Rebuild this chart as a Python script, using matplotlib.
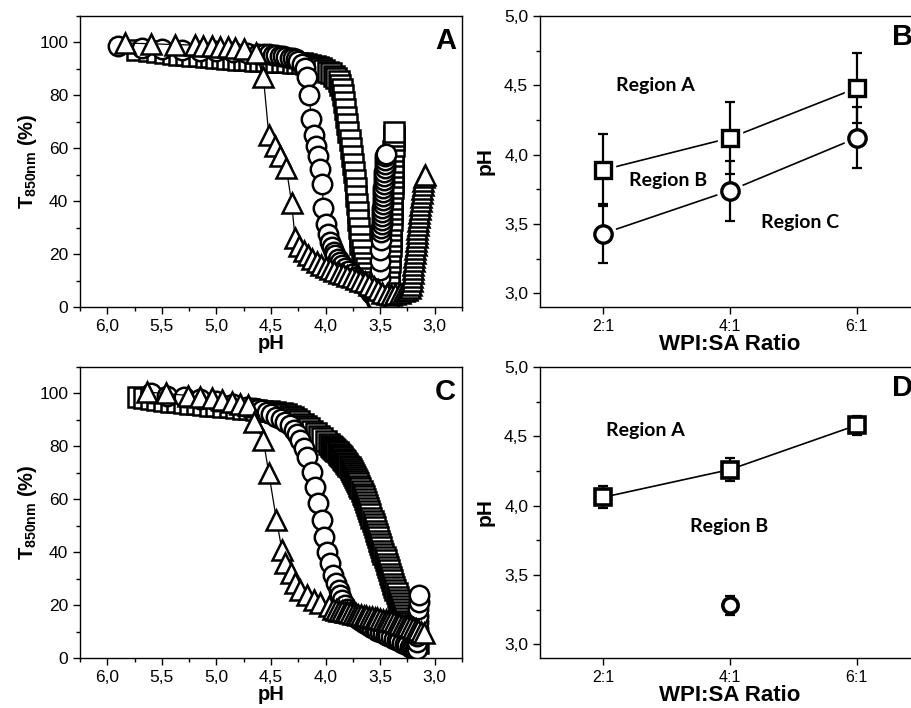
import matplotlib.pyplot as plt
from matplotlib.ticker import MultipleLocator, FuncFormatter, FixedLocator

# ---- data (pH, transmittance %) ----
a_squares = [
    (5.73, 97.2), (5.62, 96.7), (5.54, 96.3), (5.47, 96.0), (5.40, 95.7), (5.34, 95.4),
    (5.28, 95.2), (5.22, 95.0), (5.16, 94.8), (5.10, 94.6), (5.05, 94.4), (5.00, 94.2),
    (4.95, 94.0), (4.90, 93.8), (4.85, 93.7), (4.80, 93.5), (4.75, 93.4), (4.70, 93.2),
    (4.65, 93.1), (4.60, 93.0), (4.55, 92.9), (4.50, 92.8), (4.45, 92.7), (4.40, 92.6),
    (4.35, 92.5), (4.30, 92.4), (4.26, 92.3), (4.22, 92.1), (4.18, 91.9), (4.14, 91.6),
    (4.10, 91.2), (4.07, 90.8), (4.04, 90.3), (4.01, 89.7), (3.98, 89.0), (3.95, 88.3),
    (3.92, 87.5), (3.90, 86.5), (3.88, 85.3), (3.865, 84.0), (3.85, 82.3), (3.84, 80.0),
    (3.83, 77.5), (3.82, 74.8), (3.81, 72.0), (3.80, 69.0), (3.79, 66.0), (3.78, 63.0),
    (3.77, 60.0), (3.76, 57.0), (3.75, 54.0), (3.74, 51.0), (3.73, 48.0), (3.725, 45.0),
    (3.72, 42.0), (3.71, 39.0), (3.705, 36.0), (3.70, 33.0), (3.69, 30.0), (3.685, 27.0),
    (3.68, 24.0), (3.67, 21.5), (3.66, 19.0), (3.65, 16.8), (3.63, 14.6), (3.61, 12.7),
    (3.59, 11.0), (3.57, 9.5), (3.55, 8.1), (3.53, 6.8), (3.51, 5.6), (3.49, 4.6),
    (3.47, 3.8), (3.45, 3.2), (3.43, 3.0), (3.428, 5.0), (3.425, 7.0), (3.422, 9.0),
    (3.42, 11.0), (3.417, 13.0), (3.415, 15.0), (3.412, 17.0), (3.41, 19.0), (3.407, 21.0),
    (3.405, 23.0), (3.402, 25.0), (3.40, 27.0), (3.398, 29.0), (3.396, 31.0), (3.394, 33.0),
    (3.393, 35.0), (3.391, 37.0), (3.39, 39.0), (3.388, 41.0), (3.387, 43.0), (3.385, 45.0),
    (3.384, 47.0), (3.383, 49.0), (3.382, 51.0), (3.381, 53.0), (3.38, 55.0), (3.379, 57.0),
    (3.378, 59.0), (3.377, 61.0), (3.376, 63.0), (3.375, 64.5), (3.375, 66.3),
]
a_circles = [
    (5.90, 98.5), (5.68, 98.0), (5.50, 97.6), (5.32, 97.2), (5.15, 96.9), (5.00, 96.6),
    (4.85, 96.3), (4.72, 96.0), (4.62, 95.8), (4.56, 95.6), (4.52, 95.5), (4.48, 95.4),
    (4.45, 95.2), (4.42, 95.0), (4.39, 94.8), (4.36, 94.6), (4.33, 94.3), (4.30, 94.0),
    (4.27, 93.6), (4.25, 93.0), (4.22, 92.0), (4.19, 90.3), (4.17, 86.8), (4.15, 80.0),
    (4.13, 71.0), (4.11, 65.0), (4.09, 61.0), (4.07, 57.0), (4.05, 52.0), (4.03, 46.5),
    (4.02, 37.5), (4.00, 31.5), (3.975, 27.5), (3.955, 24.5), (3.94, 22.5), (3.925, 20.8),
    (3.91, 19.5), (3.89, 18.2), (3.87, 17.0), (3.85, 16.0), (3.82, 14.8), (3.79, 13.6),
    (3.76, 12.5), (3.73, 11.4), (3.70, 10.3), (3.67, 9.2), (3.64, 8.0), (3.61, 6.7),
    (3.58, 5.3), (3.555, 4.0), (3.535, 2.8), (3.525, 2.5), (3.515, 5.0), (3.51, 8.0),
    (3.505, 11.0), (3.50, 14.0), (3.50, 17.5), (3.497, 21.5), (3.493, 25.2), (3.49, 28.5),
    (3.488, 30.0), (3.487, 31.5), (3.485, 33.0), (3.484, 34.5), (3.482, 36.0), (3.48, 37.5),
    (3.478, 39.0), (3.476, 40.5), (3.474, 42.0), (3.472, 43.5), (3.47, 45.0), (3.468, 46.5),
    (3.466, 48.0), (3.464, 49.5), (3.462, 51.0), (3.46, 52.5), (3.458, 54.0), (3.455, 55.5),
    (3.453, 57.0), (3.45, 58.0),
]
a_triangles = [
    (5.84, 99.8), (5.60, 99.5), (5.38, 99.2), (5.20, 99.0), (5.12, 98.8), (5.04, 98.6),
    (4.97, 98.4), (4.89, 98.1), (4.83, 97.8), (4.75, 97.5), (4.64, 96.0), (4.57, 87.0),
    (4.52, 65.0), (4.46, 60.7), (4.42, 56.9), (4.36, 52.5), (4.31, 39.2), (4.28, 26.0),
    (4.24, 23.0), (4.20, 21.0), (4.16, 19.5), (4.12, 18.2), (4.08, 17.0), (4.04, 16.0),
    (4.00, 15.2), (3.96, 14.4), (3.92, 13.7), (3.88, 13.0), (3.84, 12.4), (3.80, 11.8),
    (3.76, 11.2), (3.72, 10.6), (3.68, 10.0), (3.64, 9.3), (3.60, 8.5), (3.56, 7.5),
    (3.52, 6.3), (3.48, 5.3), (3.44, 4.8), (3.40, 4.7), (3.36, 4.9), (3.32, 5.3),
    (3.28, 6.0), (3.25, 6.5), (3.225, 7.0), (3.215, 8.5), (3.211, 10.0), (3.207, 11.5),
    (3.203, 13.0), (3.199, 14.5), (3.195, 16.0), (3.19, 17.5), (3.186, 19.0), (3.182, 20.5),
    (3.178, 22.0), (3.174, 23.5), (3.17, 25.0), (3.166, 26.5), (3.162, 28.0), (3.158, 29.5),
    (3.154, 31.0), (3.15, 32.5), (3.146, 34.0), (3.142, 35.5), (3.138, 37.0), (3.134, 38.5),
    (3.13, 40.0), (3.126, 41.5), (3.121, 43.0), (3.116, 44.5), (3.111, 46.0), (3.105, 47.5),
    (3.099, 49.0), (3.093, 50.0),
]

c_squares = [
    (5.72, 98.5), (5.66, 98.1), (5.60, 97.8), (5.54, 97.5), (5.48, 97.2), (5.42, 96.9),
    (5.36, 96.6), (5.30, 96.4), (5.24, 96.1), (5.18, 95.9), (5.12, 95.6), (5.06, 95.4),
    (5.00, 95.1), (4.94, 94.9), (4.88, 94.7), (4.82, 94.5), (4.76, 94.3), (4.70, 94.0),
    (4.64, 93.8), (4.58, 93.5), (4.52, 93.2), (4.46, 92.9), (4.40, 92.5), (4.36, 92.1),
    (4.33, 91.6), (4.30, 91.0), (4.27, 90.3), (4.24, 89.5), (4.21, 88.6), (4.18, 87.7),
    (4.15, 86.8), (4.12, 85.9), (4.09, 85.0), (4.06, 84.0), (4.03, 83.0), (4.00, 82.0),
    (3.97, 80.9), (3.95, 80.2), (3.94, 79.8), (3.93, 79.4), (3.92, 79.0), (3.91, 78.6),
    (3.90, 78.2), (3.89, 77.7), (3.88, 77.3), (3.87, 76.8), (3.86, 76.4), (3.85, 75.9),
    (3.84, 75.4), (3.83, 74.9), (3.82, 74.4), (3.81, 73.8), (3.80, 73.3), (3.79, 72.7),
    (3.78, 72.1), (3.77, 71.5), (3.76, 70.8), (3.75, 70.1), (3.74, 69.3), (3.73, 68.5),
    (3.72, 67.7), (3.71, 66.9), (3.70, 66.0), (3.69, 65.1), (3.68, 64.1), (3.67, 63.1),
    (3.66, 62.1), (3.65, 61.1), (3.64, 60.0), (3.63, 58.9), (3.62, 57.8), (3.61, 56.7),
    (3.60, 55.5), (3.59, 54.3), (3.58, 53.1), (3.57, 51.9), (3.56, 50.6), (3.55, 49.4),
    (3.54, 48.1), (3.53, 46.9), (3.52, 45.6), (3.51, 44.4), (3.50, 43.1), (3.49, 41.9),
    (3.48, 40.6), (3.47, 39.4), (3.46, 38.1), (3.45, 36.9), (3.44, 35.6), (3.43, 34.4),
    (3.42, 33.1), (3.41, 31.9), (3.40, 30.6), (3.39, 29.4), (3.38, 28.1), (3.37, 26.9),
    (3.36, 25.6), (3.35, 24.4), (3.34, 23.1), (3.33, 21.9), (3.32, 20.7), (3.31, 19.5),
    (3.30, 18.4), (3.29, 17.3), (3.28, 16.2), (3.27, 15.1), (3.26, 14.1), (3.25, 13.1),
    (3.24, 12.2), (3.23, 11.3), (3.22, 10.5), (3.21, 9.7), (3.20, 9.0), (3.19, 8.3),
    (3.18, 7.7), (3.17, 7.1), (3.16, 6.6), (3.15, 5.8),
]
c_circles = [
    (5.60, 100.0), (5.45, 99.2), (5.30, 98.5), (5.15, 97.8), (5.00, 97.0), (4.85, 96.0),
    (4.72, 95.0), (4.66, 94.4), (4.62, 94.0), (4.58, 93.6), (4.54, 93.0), (4.50, 92.4),
    (4.45, 91.2), (4.41, 90.3), (4.37, 89.3), (4.33, 87.9), (4.29, 86.2), (4.26, 84.5),
    (4.23, 82.4), (4.20, 79.5), (4.17, 76.1), (4.125, 70.4), (4.095, 64.8), (4.065, 58.5),
    (4.035, 52.2), (4.018, 45.9), (3.99, 40.2), (3.96, 35.8), (3.93, 31.4), (3.90, 28.3),
    (3.88, 25.8), (3.865, 23.9), (3.845, 21.8), (3.82, 19.9), (3.80, 18.7), (3.775, 17.5),
    (3.75, 16.5), (3.725, 15.6), (3.70, 14.8), (3.675, 14.1), (3.65, 13.4), (3.625, 12.7),
    (3.60, 12.1), (3.575, 11.5), (3.55, 10.9), (3.525, 10.3), (3.50, 9.8), (3.475, 9.3),
    (3.45, 8.8), (3.425, 8.3), (3.40, 7.8), (3.375, 7.3), (3.35, 6.8), (3.325, 6.3),
    (3.30, 5.8), (3.275, 5.3), (3.25, 4.8), (3.23, 4.3), (3.21, 3.8), (3.195, 3.4),
    (3.18, 3.0), (3.165, 3.5), (3.16, 6.0), (3.158, 8.5), (3.155, 11.0), (3.153, 13.5),
    (3.152, 16.0), (3.15, 18.5), (3.148, 21.0), (3.146, 24.0),
]
c_triangles = [
    (5.64, 100.5), (5.46, 100.0), (5.26, 99.2), (5.15, 98.8), (5.04, 98.3), (4.95, 97.6),
    (4.86, 96.8), (4.78, 96.0), (4.71, 95.6), (4.66, 89.3), (4.57, 82.4), (4.52, 69.8),
    (4.45, 52.2), (4.40, 40.9), (4.37, 35.8), (4.32, 32.0), (4.28, 28.3), (4.23, 25.8),
    (4.17, 23.9), (4.11, 22.0), (4.05, 20.8), (3.97, 19.5), (3.93, 18.6), (3.90, 18.1),
    (3.875, 17.9), (3.85, 17.6), (3.825, 17.4), (3.80, 17.2), (3.775, 17.0), (3.75, 16.8),
    (3.725, 16.6), (3.70, 16.4), (3.675, 16.2), (3.65, 16.0), (3.625, 15.8), (3.60, 15.6),
    (3.575, 15.4), (3.55, 15.2), (3.525, 15.0), (3.50, 14.8), (3.475, 14.55), (3.45, 14.3),
    (3.425, 14.05), (3.40, 13.8), (3.375, 13.5), (3.35, 13.2), (3.325, 12.9), (3.30, 12.6),
    (3.275, 12.3), (3.25, 12.0), (3.225, 11.65), (3.20, 11.3), (3.175, 10.85), (3.15, 10.4),
    (3.125, 9.9), (3.10, 9.4),
]

# phase boundaries vs WPI:SA ratio
ratios = ['2:1', '4:1', '6:1']
b_square_ph = [3.89, 4.12, 4.48]
b_square_err = [0.26, 0.26, 0.255]
b_circle_ph = [3.43, 3.74, 4.12]
b_circle_err = [0.215, 0.217, 0.22]
d_square_ph = [4.06, 4.26, 4.58]
d_square_err = [0.08, 0.08, 0.07]
d_circle_ratio = ['4:1']
d_circle_ph = [3.28]
d_circle_err = [0.07]

plt.rcParams['font.family'] = ['Liberation Sans', 'DejaVu Sans']
plt.rcParams['mathtext.fontset'] = 'custom'
plt.rcParams['mathtext.rm'] = 'Liberation Sans'
plt.rcParams['mathtext.bf'] = 'Liberation Sans:bold'


def comma(v, pos):
    return f'{v:.1f}'.replace('.', ',')


def style_axes(ax):
    for s in ax.spines.values():
        s.set_linewidth(1.0)
    ax.tick_params(which='major', direction='out', length=5, width=1, labelsize=12.5,
                   top=False, right=False)
    ax.tick_params(which='minor', direction='out', length=3, width=1, top=False, right=False)


def turbidity_panel(ax, squares, circles, triangles, letter):
    for pts, m in [(squares, 's'), (circles, 'o'), (triangles, '^')]:
        ph = [p[0] for p in pts]
        t = [p[1] for p in pts]
        ax.plot(ph, t, '-', color='black', lw=0.9, marker=m, ms=14,
                mfc='white', mec='black', mew=1.8)
    ax.set_xlim(6.25, 2.75)
    ax.set_ylim(0, 110)
    ax.xaxis.set_major_locator(MultipleLocator(0.5))
    ax.xaxis.set_minor_locator(MultipleLocator(0.25))
    ax.xaxis.set_major_formatter(FuncFormatter(comma))
    ax.yaxis.set_major_locator(FixedLocator([0, 20, 40, 60, 80, 100]))
    ax.yaxis.set_minor_locator(MultipleLocator(10))
    style_axes(ax)
    ax.set_xlabel('pH', fontsize=14.5, fontweight='bold', labelpad=0)
    ax.set_ylabel(r'$\mathbf{T_{850nm}}$ (%)', fontsize=14.5, fontweight='bold', labelpad=0)
    ax.text(0.957, 0.915, letter, transform=ax.transAxes, fontsize=21,
            fontweight='bold', ha='center', va='center')


def ratio_panel(ax, letter):
    ax.set_xlim(-0.5, 2.5)
    ax.set_ylim(2.9, 5.0)
    ax.xaxis.set_major_locator(FixedLocator([0, 1, 2]))
    ax.set_xticklabels(ratios)
    ax.yaxis.set_major_locator(MultipleLocator(0.5))
    ax.yaxis.set_minor_locator(MultipleLocator(0.25))
    ax.yaxis.set_major_formatter(FuncFormatter(comma))
    style_axes(ax)
    ax.tick_params(axis='x', labelsize=11.5)
    ax.set_xlabel('WPI:SA Ratio', fontsize=16, fontweight='bold', labelpad=0)
    ax.set_ylabel('pH', fontsize=15, fontweight='bold', labelpad=7)
    ax.text(0.955, 0.927, letter, transform=ax.transAxes, fontsize=21,
            fontweight='bold', ha='center', va='center')


def marker_series(ax, x, y, err, m, ms, mew, line=True, gap=True):
    if line:
        ax.plot(x, y, '-', color='black', lw=1.2, zorder=1)
    if gap:
        ax.plot(x, y, m, ms=ms + 6, mfc='white', mec='white', ls='none', zorder=2)
    ax.errorbar(x, y, yerr=err, fmt='none', ecolor='black', elinewidth=1.6,
                capsize=3.5, capthick=1.6, zorder=3)
    ax.plot(x, y, m, ms=ms, mfc='white', mec='black', mew=mew, ls='none', zorder=4)


fig = plt.figure(figsize=(9.12, 7.08), dpi=100)
W, H = 912, 708
ax_a = fig.add_axes([80 / W, 1 - 307 / H, 382 / W, 291 / H])
ax_c = fig.add_axes([80 / W, 1 - 658 / H, 382 / W, 291 / H])
ax_b = fig.add_axes([540 / W, 1 - 307 / H, 380 / W, 291 / H])
ax_d = fig.add_axes([540 / W, 1 - 658 / H, 380 / W, 291 / H])

turbidity_panel(ax_a, a_squares, a_circles, a_triangles, 'A')
turbidity_panel(ax_c, c_squares, c_circles, c_triangles, 'C')

# panel B
pos = [ratios.index(r) for r in ratios]
marker_series(ax_b, pos, b_square_ph, b_square_err, 's', 11.5, 2.4)
marker_series(ax_b, pos, b_circle_ph, b_circle_err, 'o', 12.5, 2.4)
ratio_panel(ax_b, 'B')
region_font = dict(family=['Lato', 'DejaVu Sans'], fontweight='bold', fontsize=14,
                   ha='center', va='center')
ax_b.text(0.41, 4.50, 'Region A', **region_font)
ax_b.text(0.51, 3.81, 'Region B', **region_font)
ax_b.text(1.55, 3.51, 'Region C', **region_font)

# panel D
marker_series(ax_d, pos, d_square_ph, d_square_err, 's', 11, 2.6, gap=False)
marker_series(ax_d, [ratios.index(r) for r in d_circle_ratio], d_circle_ph, d_circle_err,
              'o', 11, 2.6, line=False, gap=False)
ratio_panel(ax_d, 'D')
ax_d.text(0.33, 4.54, 'Region A', **region_font)
ax_d.text(0.99, 3.85, 'Region B', **region_font)

fig.savefig('out.png', dpi=100)
